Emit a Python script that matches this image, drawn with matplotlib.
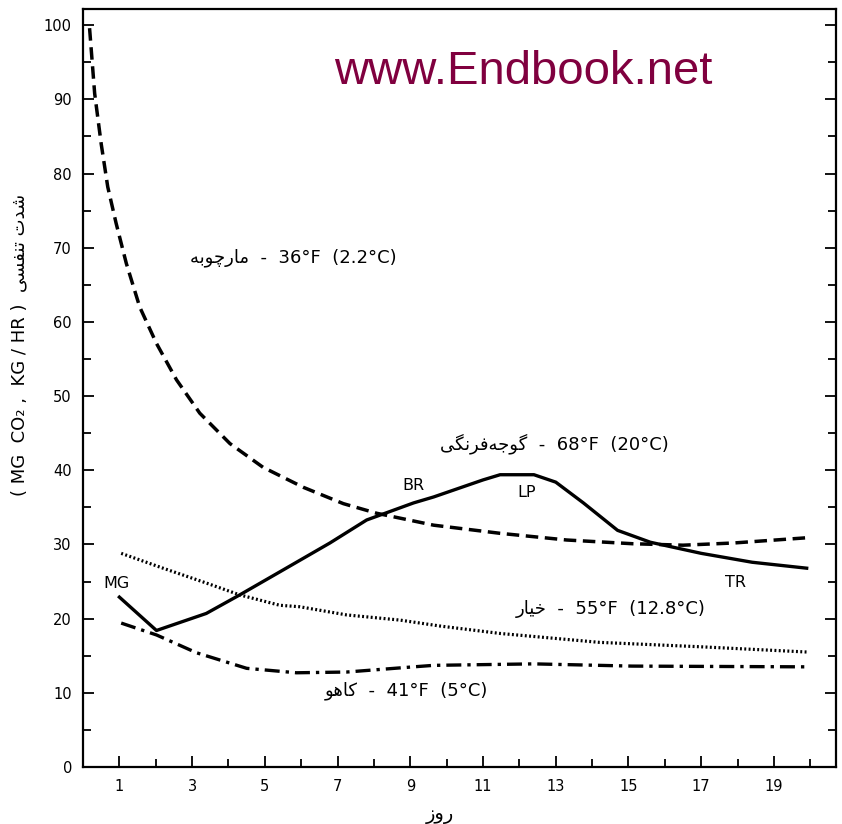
import numpy as np
import matplotlib
matplotlib.use('Agg')
import matplotlib.pyplot as plt
from matplotlib.ticker import MultipleLocator, FixedLocator

plt.rcParams['font.family'] = ['DejaVu Sans']

# data (days, mg CO2 / kg / hr)
asp_x = [0.18, 0.32, 0.5, 0.68, 0.91, 1.19, 1.56, 2.02, 2.57, 3.21, 4.04, 4.95, 6.06, 7.16, 8.08, 9.64, 11.47, 13.3, 15.1, 16.5, 17.9, 19.9]
asp_y = [99.6, 90.8, 84.0, 78.2, 73.3, 67.9, 62.0, 57.1, 52.2, 47.7, 43.6, 40.4, 37.7, 35.5, 34.2, 32.6, 31.5, 30.6, 30.1, 29.9, 30.2, 30.9]

tom_x = [1.0, 2.02, 3.39, 4.31, 5.41, 6.79, 7.8, 9.09, 9.64, 11.0, 11.47, 12.4, 13.0, 13.76, 14.7, 15.6, 17.0, 18.4, 19.9]
tom_y = [22.9, 18.4, 20.7, 23.2, 26.3, 30.2, 33.3, 35.6, 36.4, 38.7, 39.4, 39.4, 38.4, 35.6, 31.9, 30.3, 28.8, 27.6, 26.8]

cuc_x = [1.05, 2.2, 3.39, 4.31, 5.41, 5.96, 7.25, 8.72, 9.82, 11.47, 14.2, 17.0, 19.9]
cuc_y = [28.8, 26.8, 24.8, 23.2, 21.8, 21.6, 20.5, 19.8, 19.0, 18.0, 16.8, 16.2, 15.5]

let_x = [1.05, 2.02, 3.12, 4.5, 5.87, 7.25, 9.09, 9.64, 12.4, 15.1, 19.9]
let_y = [19.4, 17.8, 15.4, 13.3, 12.7, 12.8, 13.5, 13.7, 13.9, 13.6, 13.5]

x_ticks = [1, 3, 5, 7, 9, 11, 13, 15, 17, 19]
y_ticks = [0, 10, 20, 30, 40, 50, 60, 70, 80, 90, 100]

# stage marks on the tomato curve
stage_names = ['MG', 'BR', 'LP', 'TR']
stage_x = [0.93, 9.08, 12.2, 17.95]
stage_y = [24.8, 38.0, 37.0, 24.9]

# matplotlib has no arabic shaping, so do a small one by hand
FORMS = {
    'ا': ('\uFE8D', '\uFE8E', None, None),
    'ب': ('\uFE8F', '\uFE90', '\uFE91', '\uFE92'),
    'ت': ('\uFE95', '\uFE96', '\uFE97', '\uFE98'),
    'ج': ('\uFE9D', '\uFE9E', '\uFE9F', '\uFEA0'),
    'خ': ('\uFEA5', '\uFEA6', '\uFEA7', '\uFEA8'),
    'د': ('\uFEA9', '\uFEAA', None, None),
    'ر': ('\uFEAD', '\uFEAE', None, None),
    'ز': ('\uFEAF', '\uFEB0', None, None),
    'س': ('\uFEB1', '\uFEB2', '\uFEB3', '\uFEB4'),
    'ش': ('\uFEB5', '\uFEB6', '\uFEB7', '\uFEB8'),
    'ف': ('\uFED1', '\uFED2', '\uFED3', '\uFED4'),
    'م': ('\uFEE1', '\uFEE2', '\uFEE3', '\uFEE4'),
    'ن': ('\uFEE5', '\uFEE6', '\uFEE7', '\uFEE8'),
    'ه': ('\uFEE9', '\uFEEA', '\uFEEB', '\uFEEC'),
    'و': ('\uFEED', '\uFEEE', None, None),
    'چ': ('\uFB7A', '\uFB7B', '\uFB7C', '\uFB7D'),
    'ک': ('\uFB8E', '\uFB8F', '\uFB90', '\uFB91'),
    'گ': ('\uFB92', '\uFB93', '\uFB94', '\uFB95'),
    'ی': ('\uFBFC', '\uFBFD', '\uFBFE', '\uFBFF'),
}
NON_LEFT = set('ادذرزژو')


def shape(word):
    out = []
    for i, c in enumerate(word):
        if c not in FORMS:
            out.append('' if c == '\u200c' else c)
            continue
        prev = word[i - 1] if i > 0 else None
        nxt = word[i + 1] if i + 1 < len(word) else None
        jp = prev in FORMS and prev not in NON_LEFT
        jn = nxt in FORMS and c not in NON_LEFT
        iso, fin, ini, med = FORMS[c]
        if jp and jn:
            out.append(med)
        elif jp:
            out.append(fin)
        elif jn:
            out.append(ini)
        else:
            out.append(iso)
    return ''.join(out)[::-1]


fig = plt.figure(figsize=(8.42, 8.24), dpi=100)
ax = fig.add_axes([0.0986, 0.0692, 0.894, 0.92])

ax.plot(asp_x, asp_y, color='black', lw=2.5, ls=(0, (3.6, 1.9)))
ax.plot(tom_x, tom_y, color='black', lw=2.4, ls='-')
ax.plot(cuc_x, cuc_y, color='black', lw=2.3, ls=(0, (0.6, 0.75)))
ax.plot(let_x, let_y, color='black', lw=2.4, ls=(0, (4.5, 1.8, 1.0, 1.8)))

for name, sx, sy in zip(stage_names, stage_x, stage_y):
    ax.text(sx, sy, name, fontsize=11.5, ha='center', va='center')

fs = 13
ax.text(2.93, 68.6, shape('مارچوبه') + '  -  36°F  (2.2°C)', fontsize=fs, va='center')
ax.text(9.82, 43.6, shape('گوجه\u200cفرنگی') + '  -  68°F  (20°C)', fontsize=fs, va='center')
ax.text(11.9, 21.3, shape('خیار') + '  -  55°F  (12.8°C)', fontsize=fs, va='center')
ax.text(6.65, 10.3, shape('کاهو') + '  -  41°F  (5°C)', fontsize=fs, va='center')

ax.set_xlim(0, 20.7)
ax.set_ylim(0, 102.2)
ax.xaxis.set_major_locator(FixedLocator(x_ticks))
ax.xaxis.set_minor_locator(MultipleLocator(1))
ax.yaxis.set_major_locator(FixedLocator(y_ticks))
ax.yaxis.set_minor_locator(MultipleLocator(5))
ax.tick_params(which='both', direction='in', right=True, top=False, width=1.3)
ax.tick_params(which='major', length=8, labelsize=10.5)
ax.tick_params(which='minor', length=6)
ax.tick_params(axis='x', pad=9)
ax.tick_params(axis='y', pad=8)
for sp in ax.spines.values():
    sp.set_linewidth(1.6)

ax.set_xlabel(shape('روز'), fontsize=14)
ax.xaxis.set_label_coords(0.474, -0.05)
ax.set_ylabel('( MG  CO\u2082 ,  KG / HR )  ' + shape('شدت تنفسی'), fontsize=13)
ax.yaxis.set_label_coords(-0.073, 0.557)

fig.text(0.622, 0.898, 'www.Endbook.net', fontsize=34, color='#80003f',
         ha='center', va='baseline', family='Liberation Sans')

fig.savefig('out.png', dpi=100)
